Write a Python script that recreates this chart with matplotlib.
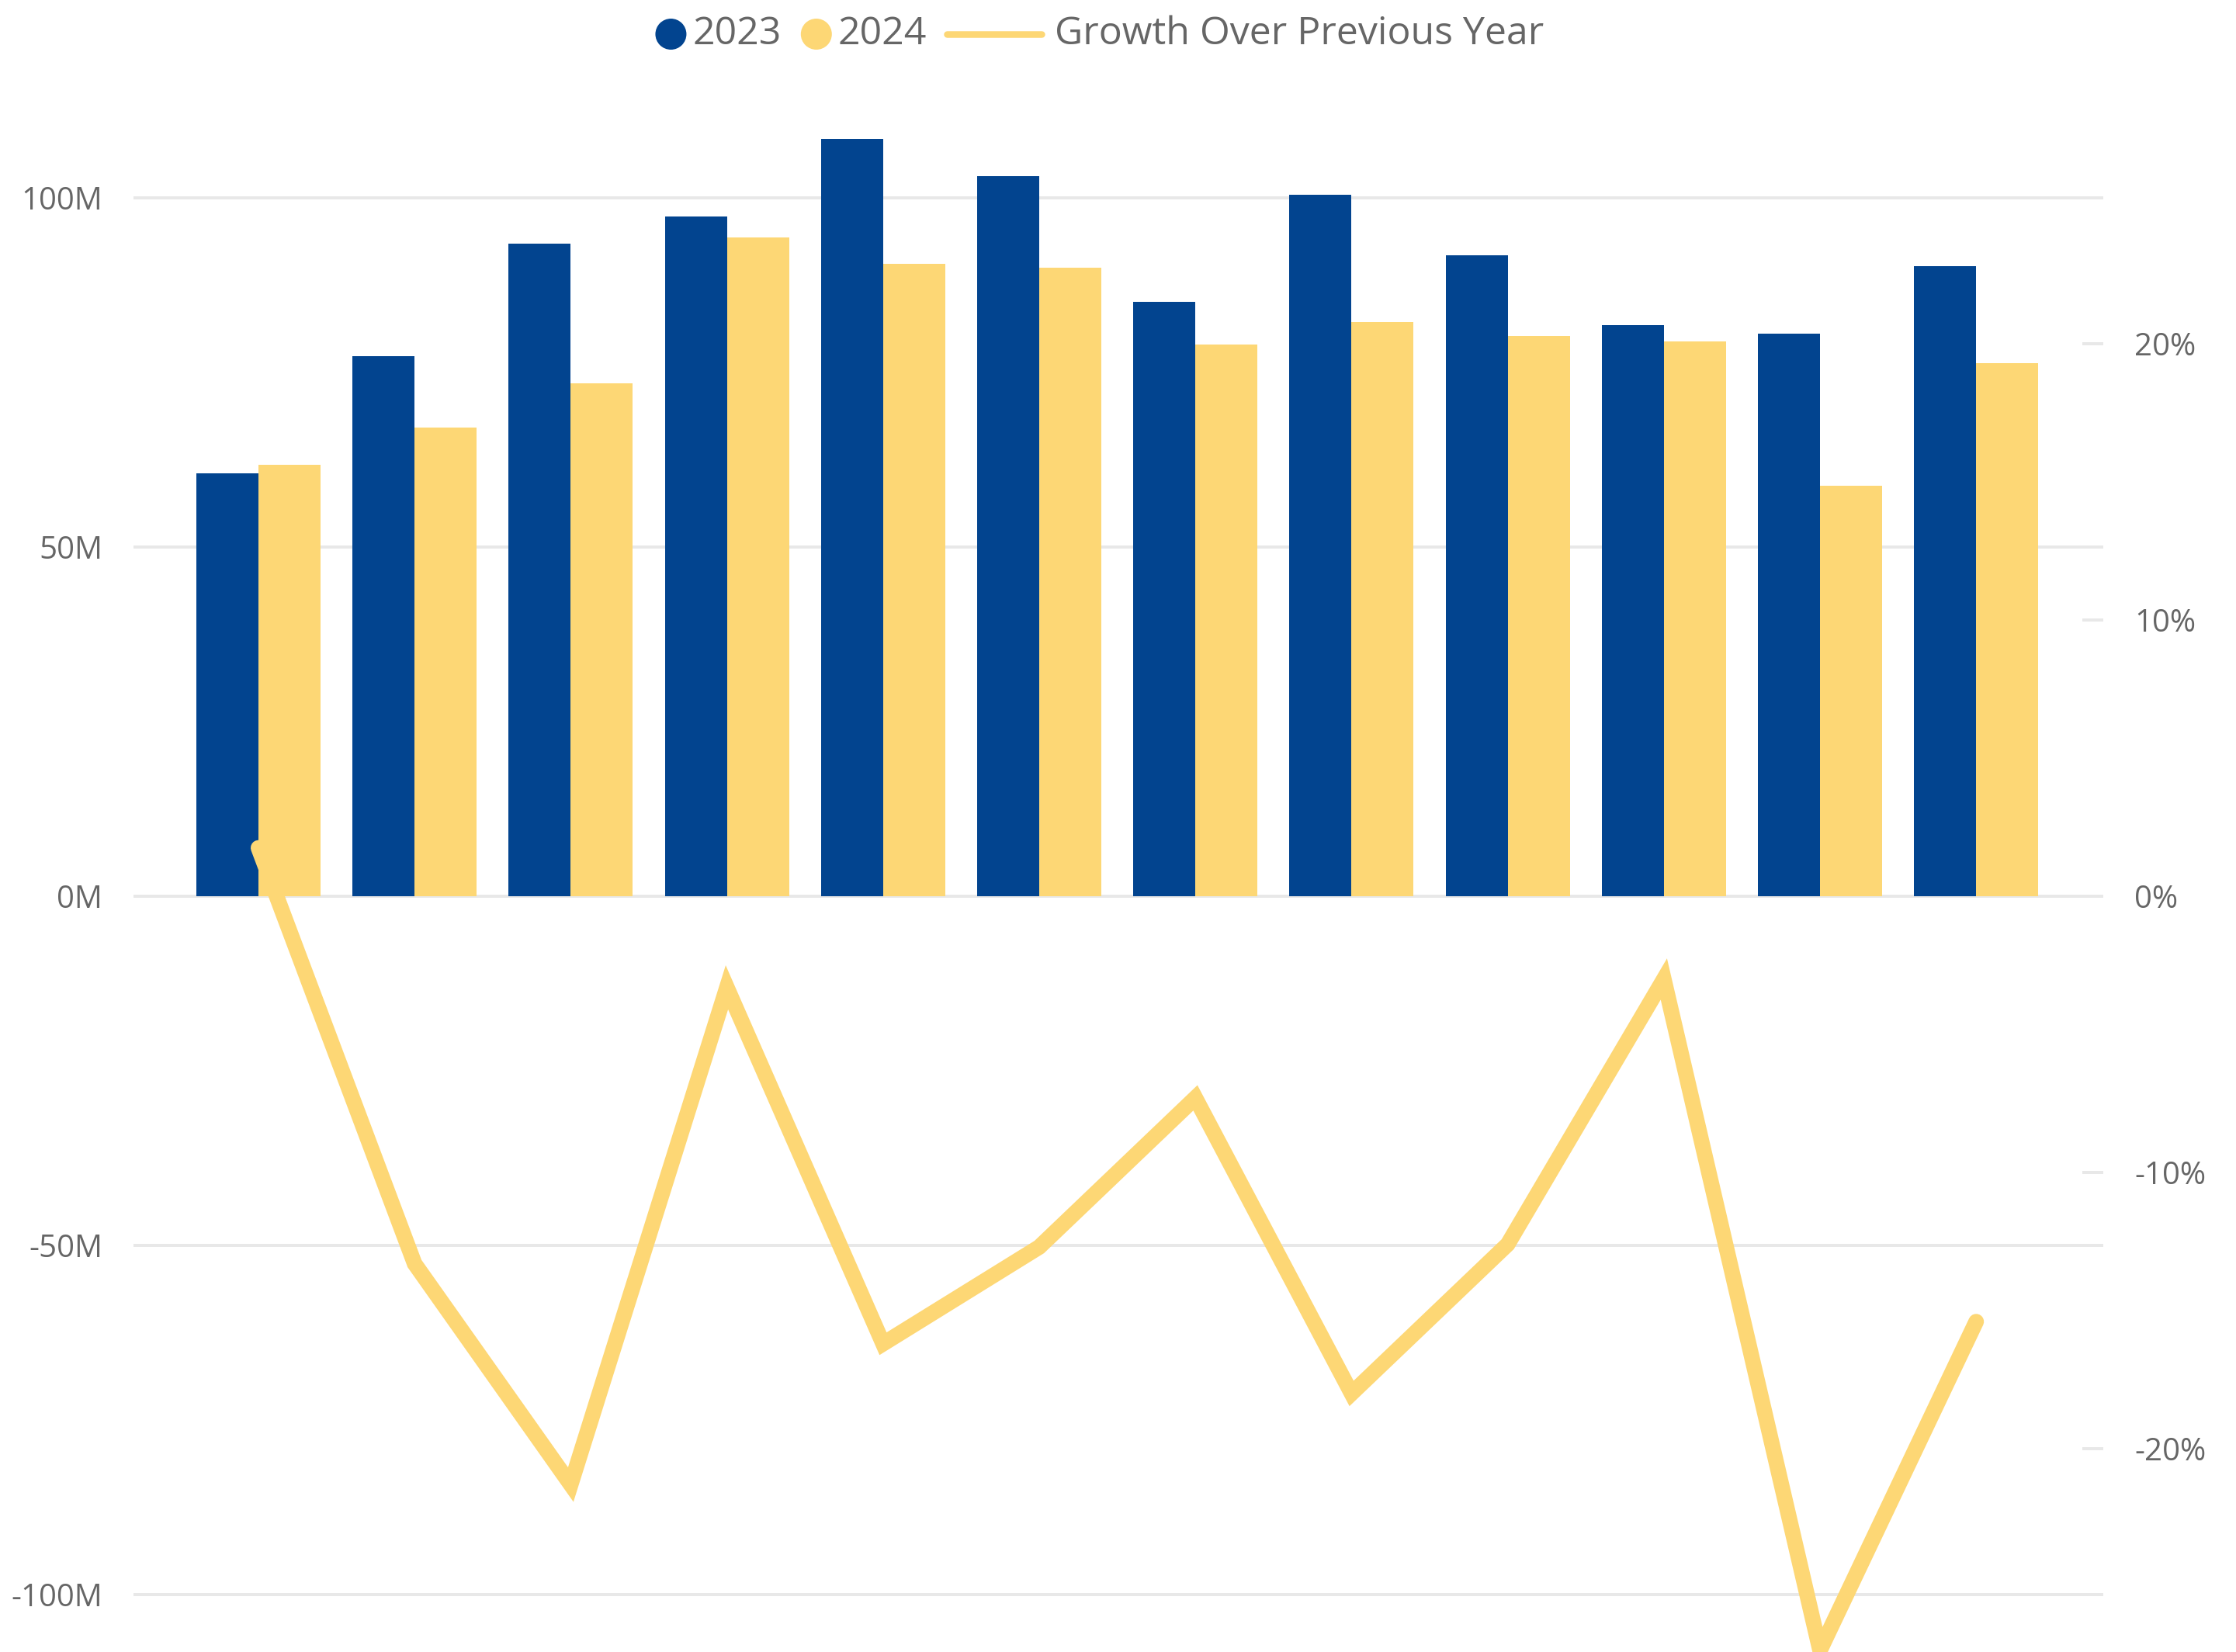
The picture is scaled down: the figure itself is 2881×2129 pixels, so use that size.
import matplotlib.pyplot as plt
import matplotlib as mpl
from matplotlib.offsetbox import HPacker, TextArea, DrawingArea, AnchoredOffsetbox
from matplotlib.patches import Circle
from matplotlib.lines import Line2D
from matplotlib.ticker import FuncFormatter

# Constants
PLOT_DPI = 200
FIG_W_PX = 2881
FIG_H_PX = 2129

BLUE = '#02448F'
YELLOW = '#FDD775'
TEXT_GREY = '#666666'
GRID_GREY = '#E8E8E8'

# Data
months = list(range(12))
sales2023 = [60.6, 77.3, 93.5, 97.3, 108.4, 103.1, 85.1, 100.4, 91.8, 81.8, 80.6, 90.2]
sales2024 = [61.8, 67.1, 73.5, 94.3, 90.6, 90.0, 79.0, 82.2, 80.2, 79.4, 58.8, 76.3]
growth = [1.75, -13.3, -21.3, -3.3, -16.2, -12.7, -7.3, -18.0, -12.6, -3.0, -27.3, -15.4]
leftTicks = [-100, -50, 0, 50, 100]
rightTicks = [-20, -10, 0, 10, 20]
seriesNames = ['2023', '2024', 'Growth Over Previous Year']


def px2pt(px):
	return px * 72 / PLOT_DPI


def drawLegend(fig):
	# legend is built by hand so the circle/line handles get their own widths
	textProps = dict(color=TEXT_GREY, fontsize=18, family='Open Sans')

	def circleBox(color):
		d = px2pt(40)
		da = DrawingArea(d, d, 0, 0)
		da.add_artist(Circle((d / 2, d / 2), d / 2, color=color, lw=0))
		return da

	def spacer(px):
		return DrawingArea(px2pt(px), 1, 0, 0)

	lineLen = px2pt(122)
	lineBox = DrawingArea(lineLen + px2pt(9), px2pt(20), 0, 0)
	lineBox.add_artist(Line2D([px2pt(4.5), px2pt(4.5) + lineLen], [px2pt(10), px2pt(10)],
							  color=YELLOW, lw=px2pt(8.5), solid_capstyle='round'))

	items = [circleBox(BLUE), spacer(8), TextArea(seriesNames[0], textprops=textProps), spacer(25),
			 circleBox(YELLOW), spacer(8), TextArea(seriesNames[1], textprops=textProps), spacer(21),
			 lineBox, spacer(13), TextArea(seriesNames[2], textprops=textProps)]
	pack = HPacker(children=items, align='center', pad=0, sep=0)
	box = AnchoredOffsetbox(loc='center', child=pack, pad=0, frameon=False,
							bbox_to_anchor=(1417 / FIG_W_PX, 1 - 44 / FIG_H_PX),
							bbox_transform=fig.transFigure, borderpad=0)
	fig.add_artist(box)


def drawChart():
	mpl.rcParams['font.family'] = ['Open Sans', 'DejaVu Sans']

	fig = plt.figure(figsize=(FIG_W_PX / PLOT_DPI, FIG_H_PX / PLOT_DPI), dpi=PLOT_DPI)
	axLeft, axRight, axTop = 172, 2710, 110
	ax = fig.add_axes([axLeft / FIG_W_PX, 0, (axRight - axLeft) / FIG_W_PX, (FIG_H_PX - axTop) / FIG_H_PX])

	zeroY = 1155  # pixel row of the zero line
	pxPerM = 9.0
	pxPerPct = 35.6
	ax.set_ylim(-(FIG_H_PX - zeroY) / pxPerM, (zeroY - axTop) / pxPerM)

	barW = 0.3976
	x = [m for m in months]
	ax.bar([v - barW / 2 for v in x], sales2023, width=barW, color=BLUE, zorder=2)
	ax.bar([v + barW / 2 for v in x], sales2024, width=barW, color=YELLOW, zorder=2)
	ax.set_xlim(-0.800, 11.814)

	ax.set_yticks(leftTicks)
	ax.yaxis.set_major_formatter(FuncFormatter(lambda v, p: '{:.0f}M'.format(v).replace('\u2212', '-')))
	ax.grid(axis='y', color=GRID_GREY, lw=px2pt(4), zorder=0)
	ax.set_axisbelow(True)
	ax.tick_params(axis='y', length=0, pad=px2pt(40), labelsize=14.5, labelcolor=TEXT_GREY)
	ax.tick_params(axis='x', bottom=False, labelbottom=False)
	for s in ax.spines.values():
		s.set_visible(False)

	ax2 = ax.twinx()
	ax2.set_ylim(-(FIG_H_PX - zeroY) / pxPerPct, (zeroY - axTop) / pxPerPct)
	ax2.plot(x, growth, color=YELLOW, lw=px2pt(20), solid_capstyle='round',
			 solid_joinstyle='miter', clip_on=False, zorder=3)
	ax2.set_yticks(rightTicks)
	ax2.yaxis.set_major_formatter(FuncFormatter(lambda v, p: '{:.0f}%'.format(v)))
	ax2.tick_params(axis='y', direction='in', length=px2pt(27), width=px2pt(4), color=GRID_GREY,
					pad=px2pt(40), labelsize=14.5, labelcolor=TEXT_GREY)
	for s in ax2.spines.values():
		s.set_visible(False)

	drawLegend(fig)

	fig.savefig('out.png', dpi=PLOT_DPI, facecolor='white')


if __name__ == "__main__":
	drawChart()
